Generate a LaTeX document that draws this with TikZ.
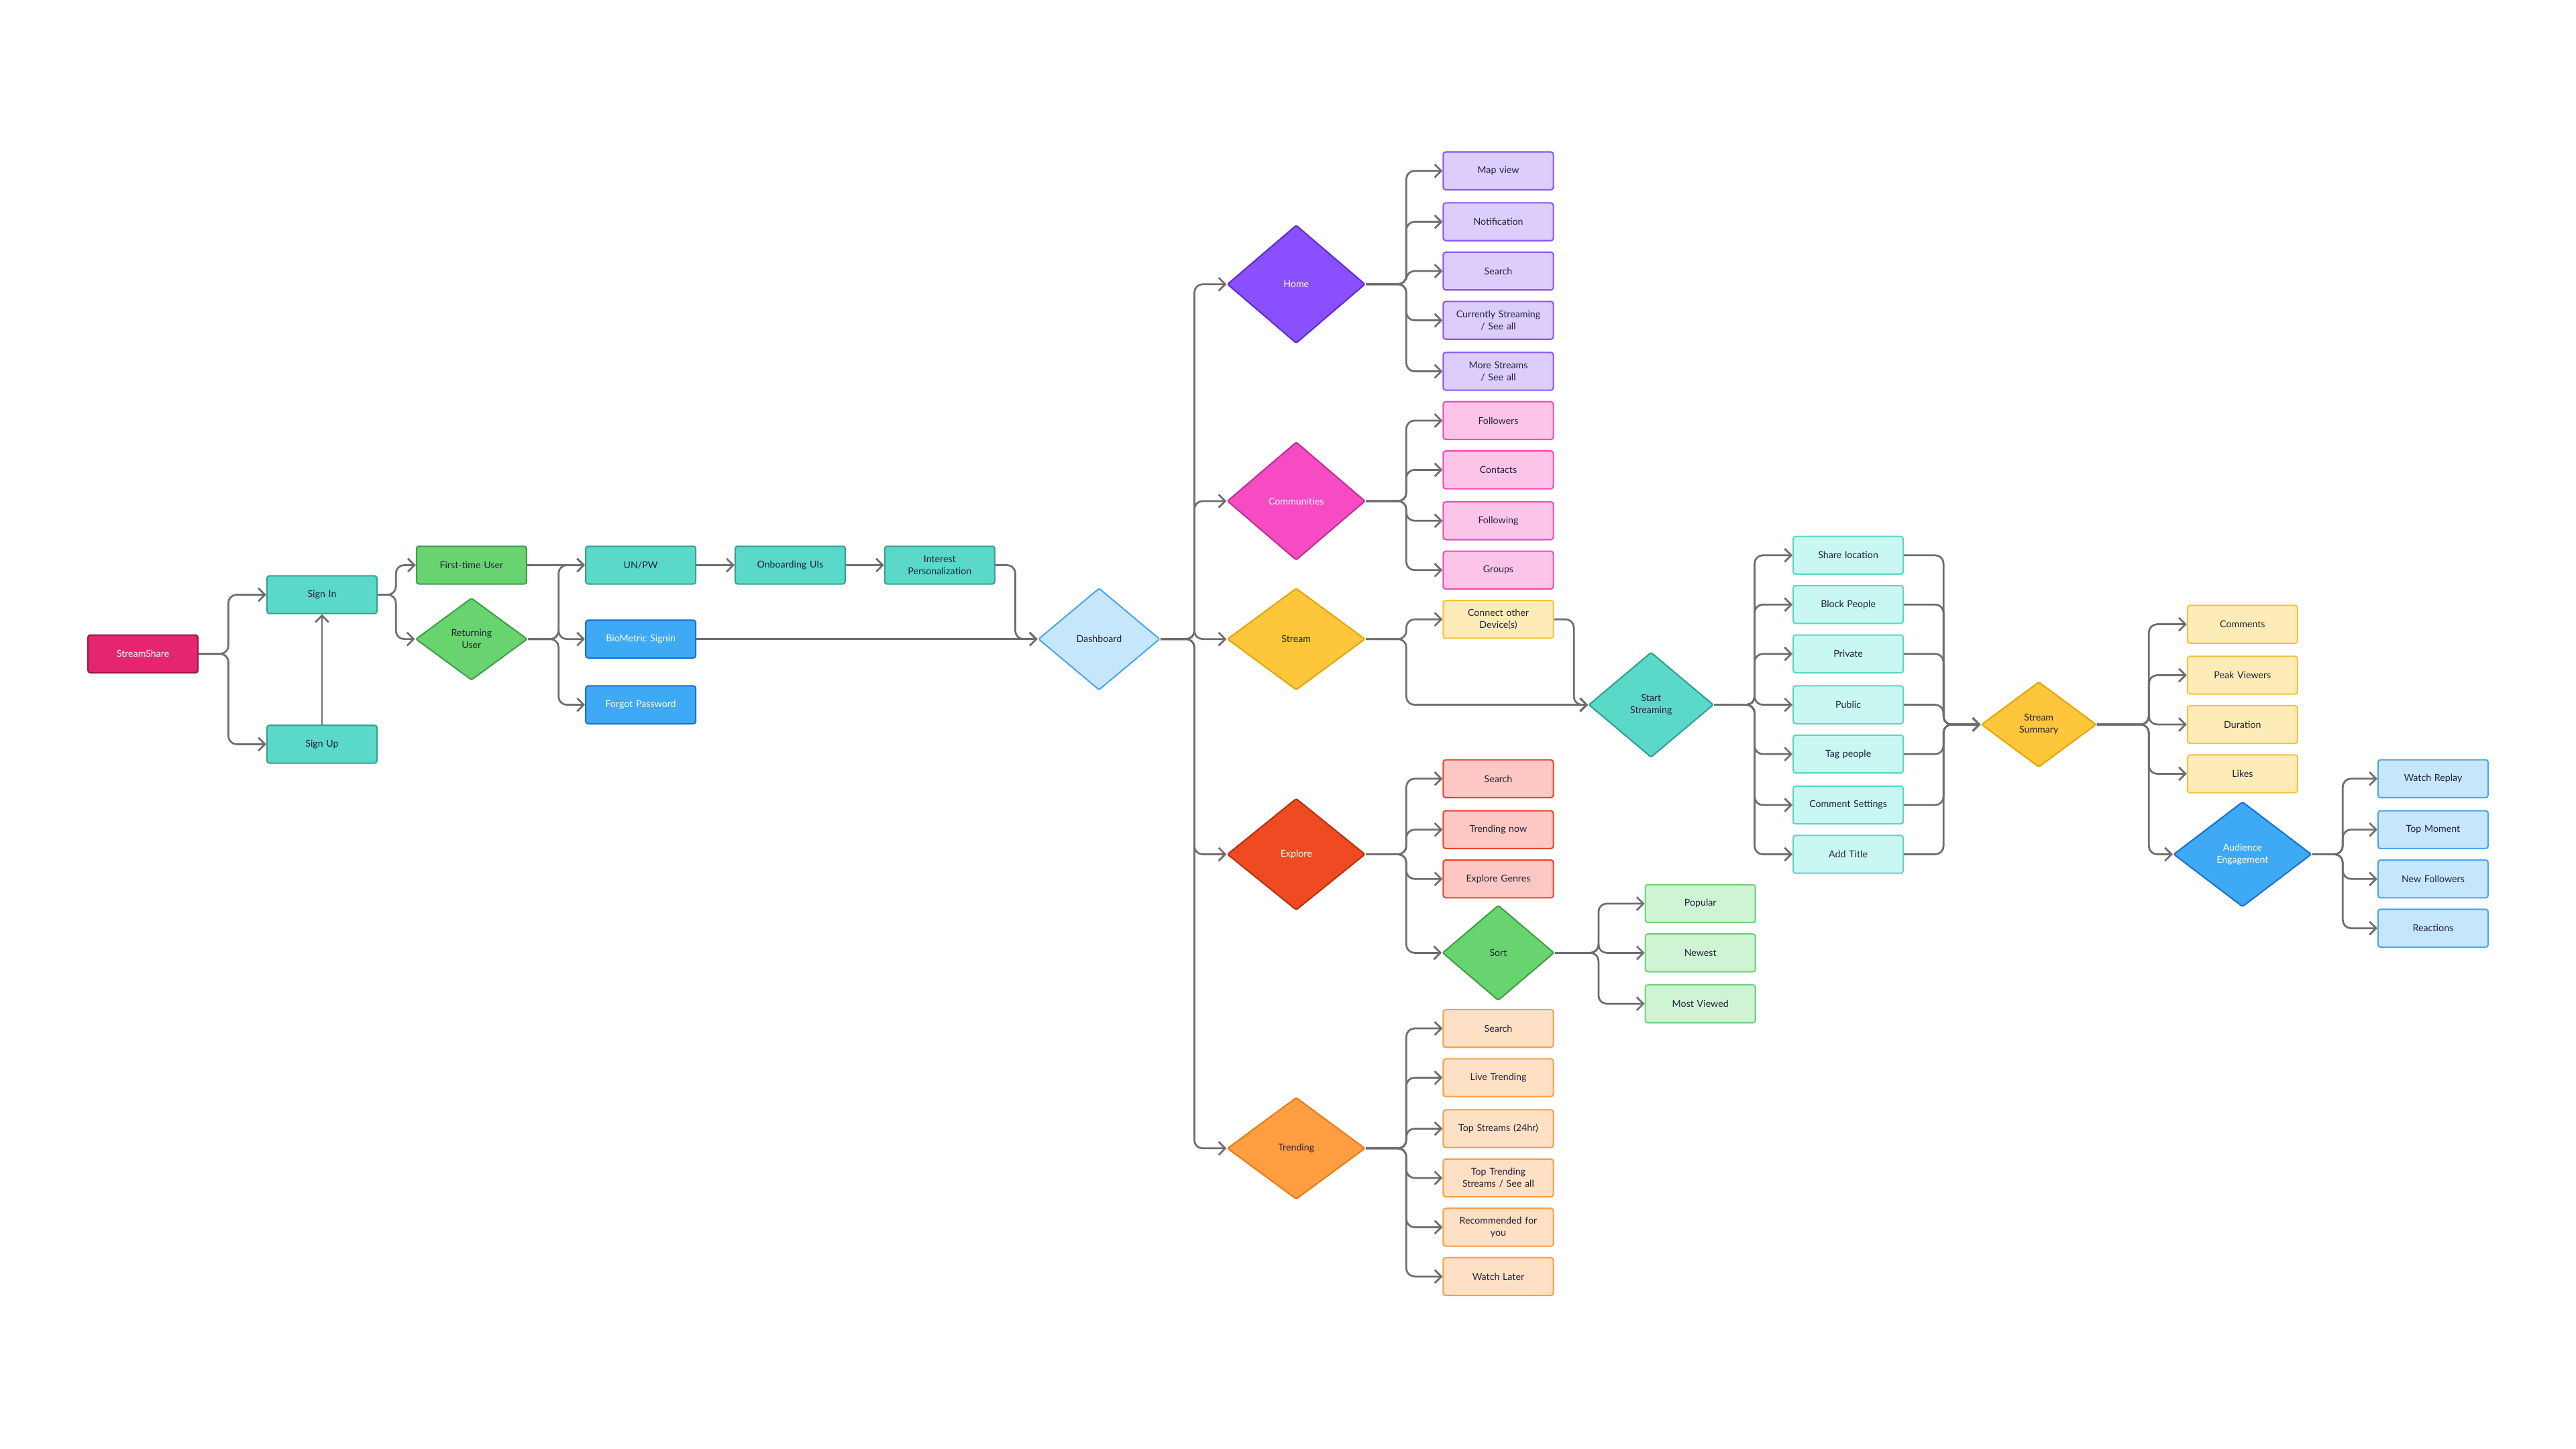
\documentclass[tikz,border=0pt]{standalone}
\usepackage{fontspec}
\setmainfont{Lato}
\usetikzlibrary{shapes.geometric,arrows.meta}
\definecolor{ln}{HTML}{6E6E6E}
\definecolor{tx}{HTML}{22223A}
\definecolor{rF}{HTML}{E5266F}\definecolor{rD}{HTML}{9E1846}
\definecolor{tF}{HTML}{5AD8C8}\definecolor{tD}{HTML}{3A9F92}
\definecolor{gF}{HTML}{68D46F}\definecolor{gD}{HTML}{3E9E45}
\definecolor{bF}{HTML}{3EA9F5}\definecolor{bD}{HTML}{1A6FD0}
\definecolor{lbF}{HTML}{C6E6FC}\definecolor{lbD}{HTML}{4AA6EE}
\definecolor{vF}{HTML}{8A4FFF}\definecolor{vD}{HTML}{5A2ED0}
\definecolor{pF}{HTML}{F64BC2}\definecolor{pD}{HTML}{C02E92}
\definecolor{yF}{HTML}{FEC63A}\definecolor{yD}{HTML}{E3A600}
\definecolor{oF}{HTML}{F04A23}\definecolor{oD}{HTML}{B8300F}
\definecolor{orF}{HTML}{FF9D41}\definecolor{orD}{HTML}{E67D17}
\definecolor{lvF}{HTML}{DCCDFD}\definecolor{lvD}{HTML}{8A55F0}
\definecolor{lpF}{HTML}{FDC4E9}\definecolor{lpD}{HTML}{EE4DB7}
\definecolor{lyF}{HTML}{FDEBB8}\definecolor{lyD}{HTML}{F5C33B}
\definecolor{loF}{HTML}{FDC8C3}\definecolor{loD}{HTML}{E9442A}
\definecolor{lgF}{HTML}{CEF4D4}\definecolor{lgD}{HTML}{6FD27C}
\definecolor{lorF}{HTML}{FEE0C4}\definecolor{lorD}{HTML}{FB9D4A}
\definecolor{ltF}{HTML}{C9F7F2}\definecolor{ltD}{HTML}{5CD5C6}
\definecolor{stD}{HTML}{2E9F90}
\begin{document}
\begin{tikzpicture}[x=1mm,y=-1mm,
  font=\fontsize{16.5}{21}\selectfont,
  bx/.style 2 args={draw=#2,fill=#1,line width=2.4pt,rounded corners=1.5mm,minimum width=67mm,minimum height=23mm,text width=65mm,align=center,inner sep=0pt,text=tx},
  dm/.style n args={4}{diamond,draw=#2,fill=#1,line width=2.4pt,rounded corners=1mm,minimum width=#3 mm,minimum height=#4 mm,inner sep=0pt,align=center,text=tx},
  wt/.style={text=white},
  conn/.style={draw=ln,line width=3.2pt,rounded corners=5mm,-{Straight Barb[length=4mm,width=8mm,line width=3.2pt]}}]
\useasboundingbox (0,0) rectangle (1568,882);
\fill[white] (0,0) rectangle (1568,882);
\node[bx={rF}{rD},wt] (ssh) at (87,398) {StreamShare};
\node[bx={tF}{tD}] (si) at (196,362) {Sign In};
\node[bx={tF}{tD}] (su) at (196,453) {Sign Up};
\node[bx={gF}{gD}] (ft) at (287,344) {First-time User};
\node[dm={gF}{gD}{68}{50}] (ru) at (287,389) {Returning\\User};
\node[bx={tF}{tD}] (unpw) at (390,344) {UN/PW};
\node[bx={tF}{tD}] (onb) at (481,344) {Onboarding UIs};
\node[bx={tF}{tD}] (ip) at (572,344) {Interest\\Personalization};
\node[bx={bF}{bD},wt] (bio) at (390,389) {BioMetric Signin};
\node[bx={bF}{bD},wt] (fp) at (390,429) {Forgot Password};
\node[dm={lbF}{lbD}{74}{62}] (dash) at (669,389) {Dashboard};
\node[dm={vF}{vD}{84}{72},wt] (home) at (789,173) {Home};
\node[dm={pF}{pD}{84}{72},wt] (comm) at (789,305) {Communities};
\node[dm={yF}{yD}{84}{62}] (strm) at (789,389) {Stream};
\node[dm={oF}{oD}{84}{68},wt] (expl) at (789,520) {Explore};
\node[dm={orF}{orD}{84}{62}] (trnd) at (789,699) {Trending};
\foreach \n/\y/\t in {h1/104/Map view,h2/135/Notification,h3/165/Search,h4/195/{Currently Streaming\\/ See all},h5/226/{More Streams\\/ See all}}
  \node[bx={lvF}{lvD}] (\n) at (912,\y) {\t};
\foreach \n/\y/\t in {c1/256/Followers,c2/286/Contacts,c3/317/Following,c4/347/Groups}
  \node[bx={lpF}{lpD}] (\n) at (912,\y) {\t};
\node[bx={lyF}{lyD}] (cod) at (912,377) {Connect other\\Device(s)};
\foreach \n/\y/\t in {e1/474/Search,e2/505/Trending now,e3/535/Explore Genres}
  \node[bx={loF}{loD}] (\n) at (912,\y) {\t};
\node[dm={gF}{gD}{68}{58}] (sort) at (912,580) {Sort};
\foreach \n/\y/\t in {p1/550/Popular,p2/580/Newest,p3/611/Most Viewed}
  \node[bx={lgF}{lgD}] (\n) at (1035,\y) {\t};
\foreach \n/\y/\t in {t1/626/Search,t2/656/Live Trending,t3/687/Top Streams (24hr),t4/717/{Top Trending\\Streams / See all},t5/747/{Recommended for\\you},t6/777/Watch Later}
  \node[bx={lorF}{lorD}] (\n) at (912,\y) {\t};
\node[dm={tF}{stD}{76}{64}] (sst) at (1005,429) {Start\\Streaming};
\foreach \n/\y/\t in {s1/338/Share location,s2/368/Block People,s3/398/Private,s4/429/Public,s5/459/Tag people,s6/490/Comment Settings,s7/520/Add Title}
  \node[bx={ltF}{ltD}] (\n) at (1125,\y) {\t};
\node[dm={yF}{yD}{70}{52}] (sum) at (1241,441) {Stream\\Summary};
\foreach \n/\y/\t in {m1/380/Comments,m2/411/Peak Viewers,m3/441/Duration,m4/471/Likes}
  \node[bx={lyF}{lyD}] (\n) at (1365,\y) {\t};
\node[dm={bF}{bD}{84}{64},wt] (ae) at (1365,520) {Audience\\Engagement};
\foreach \n/\y/\t in {a1/474/Watch Replay,a2/505/Top Moment,a3/535/New Followers,a4/565/Reactions}
  \node[bx={lbF}{lbD}] (\n) at (1481,\y) {\t};
\coordinate (T0) at (139,398);
\coordinate (T1) at (241,362);
\coordinate (T2) at (340,389);
\coordinate (T3) at (618,344);
\coordinate (TD) at (727,389);
\coordinate (TH) at (856,173);
\coordinate (TC) at (856,305);
\coordinate (TS) at (856,389);
\coordinate (TE) at (856,520);
\coordinate (TT) at (856,699);
\coordinate (TSo) at (973,580);
\coordinate (TCo) at (958,377);
\coordinate (TSt) at (1068,429);
\coordinate (TM) at (1183,441);
\coordinate (TSu) at (1308,441);
\coordinate (TA) at (1426,520);
\foreach \c in {si,su} \draw[conn] (ssh.east) -- (T0) |- (\c.west);
\draw[conn] (su.north) -- (si.south);
\foreach \c in {ft,ru} \draw[conn] (si.east) -- (T1) |- (\c.west);
\draw[conn] (ft.east) -- (unpw.west);
\draw[conn] (unpw.east) -- (onb.west);
\draw[conn] (onb.east) -- (ip.west);
\foreach \c in {unpw,bio,fp} \draw[conn] (ru.east) -- (T2) |- (\c.west);
\draw[conn] (bio.east) -- (dash.west);
\draw[conn] (ip.east) -| (T3 |- dash.west) -- (dash.west);
\foreach \c in {home,comm,strm,expl,trnd} \draw[conn] (dash.east) -- (TD) |- (\c.west);
\foreach \c in {h1,h2,h3,h4,h5} \draw[conn] (home.east) -- (TH) |- (\c.west);
\foreach \c in {c1,c2,c3,c4} \draw[conn] (comm.east) -- (TC) |- (\c.west);
\draw[conn] (strm.east) -- (TS) |- (cod.west);
\draw[conn] (strm.east) -- (TS) |- (sst.west);
\draw[conn] (cod.east) -| (TCo |- sst.west) -- (sst.west);
\foreach \c in {e1,e2,e3,sort} \draw[conn] (expl.east) -- (TE) |- (\c.west);
\foreach \c in {p1,p2,p3} \draw[conn] (sort.east) -- (TSo) |- (\c.west);
\foreach \c in {t1,t2,t3,t4,t5,t6} \draw[conn] (trnd.east) -- (TT) |- (\c.west);
\foreach \c in {s1,s2,s3,s4,s5,s6,s7} \draw[conn] (sst.east) -- (TSt) |- (\c.west);
\foreach \c in {s1,s2,s3,s4,s5,s6,s7} \draw[conn] (\c.east) -| (TM) -- (sum.west);
\foreach \c in {m1,m2,m3,m4,ae} \draw[conn] (sum.east) -- (TSu) |- (\c.west);
\foreach \c in {a1,a2,a3,a4} \draw[conn] (ae.east) -- (TA) |- (\c.west);
\end{tikzpicture}
\end{document}
